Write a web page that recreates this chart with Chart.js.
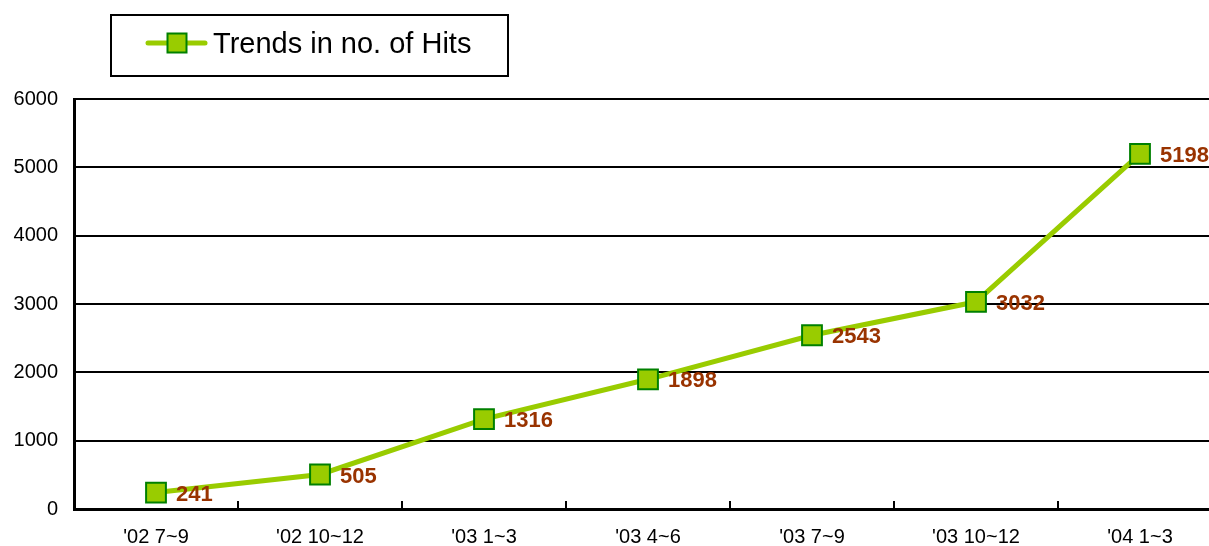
<!DOCTYPE html>
<html>
<head>
<meta charset="utf-8">
<script src="https://cdn.jsdelivr.net/npm/chart.js@4/dist/chart.umd.min.js"></script>
<style>
	html, body { margin: 0; padding: 0; background: #fff; overflow: hidden; }
	#wrap { width: 1238px; height: 546px; position: relative; }
	#hitsChart { position: absolute; left: 0; top: 0; width: 1238px; height: 546px; }
</style>
</head>
<body>
<div id="wrap"><canvas id="hitsChart" width="1238" height="546"></canvas></div>
<script>
// chart data.
const quarters = ["'02 7~9", "'02 10~12", "'03 1~3", "'03 4~6", "'03 7~9", "'03 10~12", "'04 1~3"];
const hits = [241, 505, 1316, 1898, 2543, 3032, 5198];
const seriesName = 'Trends in no. of Hits';
const yTicks = [0, 1000, 2000, 3000, 4000, 5000, 6000];

const FONT = "'Liberation Sans', Arial, sans-serif";
const LINE = '#99CC00';
const EDGE = '#008000';
const LABEL = '#993300';

// helper: draw one square marker.
const drawMarker = (ctx, x, y, side) => {
	ctx.save();
	ctx.fillStyle = LINE;
	ctx.strokeStyle = EDGE;
	ctx.lineWidth = 2;
	ctx.fillRect(x - side / 2, y - side / 2, side, side);
	ctx.strokeRect(x - side / 2, y - side / 2, side, side);
	ctx.restore();
};

// boxed legend top left.
const legendBox = {
	id: 'legendBox',
	afterDraw(chart) {
		const ctx = chart.ctx;
		ctx.save();
		ctx.strokeStyle = '#000';
		ctx.lineWidth = 2;
		ctx.strokeRect(111, 15, 397, 61);
		ctx.strokeStyle = LINE;
		ctx.lineWidth = 5;
		ctx.lineCap = 'round';
		ctx.beginPath();
		ctx.moveTo(148, 43);
		ctx.lineTo(205, 43);
		ctx.stroke();
		ctx.restore();
		drawMarker(ctx, 177, 43, 19);
		ctx.save();
		ctx.fillStyle = '#000';
		ctx.font = '29px ' + FONT;
		ctx.textBaseline = 'alphabetic';
		ctx.fillText(chart.data.datasets[0].label, 213, 53);
		ctx.restore();
	}
};

// short tick marks between categories, pointing up.
const catTicks = {
	id: 'catTicks',
	beforeDatasetsDraw(chart) {
		const ctx = chart.ctx, x = chart.scales.x, bottom = chart.chartArea.bottom;
		ctx.save();
		ctx.strokeStyle = '#000';
		ctx.lineWidth = 2;
		for (let i = 1; i < quarters.length; i++) {
			const px = Math.round((x.getPixelForValue(i - 1) + x.getPixelForValue(i)) / 2);
			ctx.beginPath();
			ctx.moveTo(px, bottom);
			ctx.lineTo(px, bottom - 8);
			ctx.stroke();
		}
		ctx.restore();
	}
};

// value labels right of each point.
const valueLabels = {
	id: 'valueLabels',
	afterDatasetsDraw(chart) {
		const ctx = chart.ctx;
		const meta = chart.getDatasetMeta(0);
		ctx.save();
		ctx.fillStyle = LABEL;
		ctx.font = 'bold 22px ' + FONT;
		ctx.textAlign = 'left';
		ctx.textBaseline = 'middle';
		meta.data.forEach((pt, i) => {
			ctx.fillText(String(chart.data.datasets[0].data[i]), pt.x + 20, pt.y + 2);
		});
		ctx.restore();
	}
};

new Chart(document.getElementById('hitsChart').getContext('2d'), {
	type: 'line',
	data: {
		labels: quarters,
		datasets: [{
			label: seriesName,
			data: hits,
			borderColor: LINE,
			borderWidth: 5,
			backgroundColor: LINE,
			pointStyle: 'rect',
			pointRadius: 14,
			pointBorderColor: EDGE,
			pointBackgroundColor: LINE,
			pointBorderWidth: 2,
			tension: 0,
			fill: false
		}]
	},
	options: {
		responsive: false,
		animation: false,
		devicePixelRatio: 1,
		layout: { padding: { top: 99, left: 0, right: 0, bottom: 0 } },
		plugins: {
			legend: { display: false },
			tooltip: { enabled: false }
		},
		scales: {
			x: {
				offset: true,
				grid: { display: false, drawTicks: false },
				border: { display: true, color: '#000', width: 3 },
				ticks: { color: '#000', font: { family: FONT, size: 20 }, padding: 16, maxRotation: 0, autoSkip: false },
				afterFit: (scale) => { scale.height = 37; }
			},
			y: {
				min: 0,
				max: 6000,
				afterBuildTicks: (scale) => { scale.ticks = yTicks.map(v => ({ value: v })); },
				grid: { color: '#000', lineWidth: 2, drawTicks: false },
				border: { display: true, color: '#000', width: 3 },
				ticks: { color: '#000', font: { family: FONT, size: 20 }, padding: 16, callback: (v) => String(v) },
				afterFit: (scale) => { scale.width = 74; }
			}
		}
	},
	plugins: [catTicks, valueLabels, legendBox]
});
</script>
</body>
</html>
